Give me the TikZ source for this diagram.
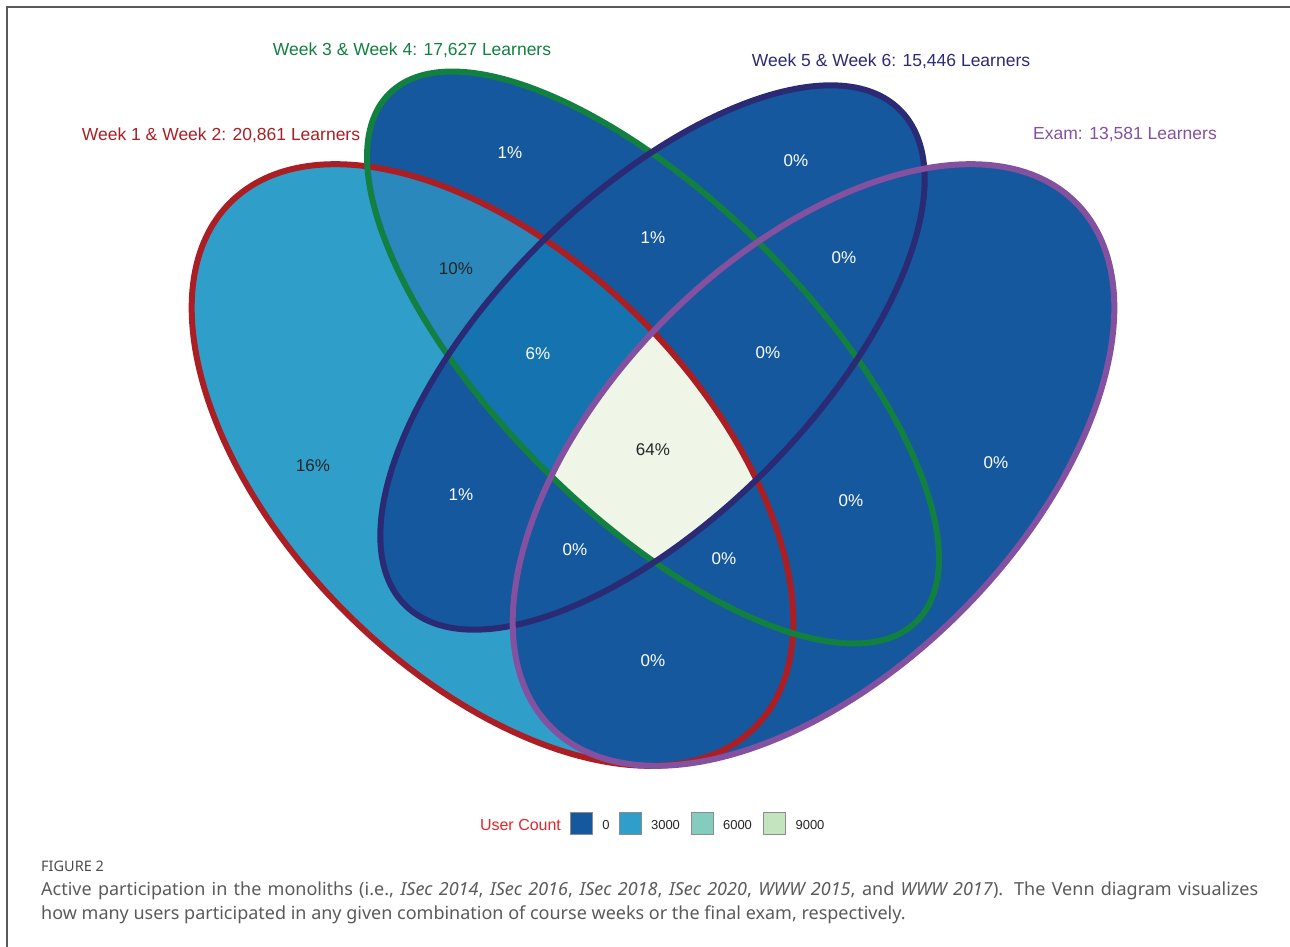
\documentclass[tikz,border=0pt]{standalone}
\usepackage{fontspec}
\setmainfont{Liberation Sans}
\newfontfamily\capfont{Noto Sans}

\definecolor{setred}{RGB}{171,30,36}
\definecolor{setgreen}{RGB}{17,128,64}
\definecolor{setnavy}{RGB}{43,42,116}
\definecolor{setpurple}{RGB}{132,80,160}
\definecolor{fillzero}{RGB}{21,88,157}
\definecolor{fillthree}{RGB}{47,159,201}
\definecolor{fillsix}{RGB}{132,204,190}
\definecolor{fillnine}{RGB}{196,228,192}
\definecolor{fillmid}{RGB}{42,136,188}
\definecolor{fillcore}{RGB}{21,116,176}
\definecolor{fillpale}{RGB}{239,246,232}
\definecolor{keyred}{RGB}{226,38,46}
\definecolor{capgray}{RGB}{90,90,90}

\tikzset{
  outline/.style={line width=6pt},
  pct/.style={font=\fontsize{17}{20}\selectfont, text=white},
  pctdark/.style={pct, text=black!85},
  setlabel/.style={font=\fontsize{17.5}{21}\selectfont},
  keybox/.style={draw=black!45, line width=1.5pt, minimum size=22pt, inner sep=0pt},
  keylabel/.style={font=\fontsize{13}{15}\selectfont, text=black!85},
  captext/.style={anchor=base west, inner sep=0pt, font=\capfont\fontsize{18}{22}\selectfont, text=capgray},
}

% the four sets
\def\setA{[rotate around={-45:(492.5,465)}] (492.5,465) ellipse [x radius=371pt, y radius=208pt]}
\def\setB{[rotate around={-45:(653,357.5)}] (653,357.5) ellipse [x radius=373pt, y radius=156pt]}
\def\setC{[rotate around={45:(652.5,357.5)}] (652.5,357.5) ellipse [x radius=350pt, y radius=160pt]}
\def\setD{[rotate around={45:(813.5,465)}] (813.5,465) ellipse [x radius=371pt, y radius=208pt]}

\begin{document}
\begin{tikzpicture}[x=1pt, y=-1pt]
  \useasboundingbox (0,0) rectangle (1290,947);
  \draw[black!65, line width=2pt] (7,947) -- (7,7) -- (1290,7);

  % fills
  \fill[fillthree] \setA;
  \fill[fillzero] \setB;
  \fill[fillzero] \setC;
  \fill[fillzero] \setD;
  \begin{scope}
    \clip \setA;
    \clip \setB;
    \fill[fillmid] \setB;
    \fill[fillcore] \setC;
    \fill[fillzero] \setD;
    \begin{scope}
      \clip \setC;
      \fill[fillpale] \setD;
    \end{scope}
  \end{scope}

  % outlines
  \draw[outline, setred] \setA;
  \draw[outline, setgreen] \setB;
  \draw[outline, setnavy] \setC;
  \draw[outline, setpurple] \setD;

  % set names
  \node[setlabel, text=setgreen] (labB) at (412,50) {Week 3 \& Week 4: 17,627 Learners};
  \node[setlabel, text=setnavy] (labC) at (891,61) {Week 5 \& Week 6: 15,446 Learners};
  \node[setlabel, text=setred] (labA) at (221,135) {Week 1 \& Week 2: 20,861 Learners};
  \node[setlabel, text=setpurple] (labD) at (1125,135) {Exam: 13,581 Learners};

  % region shares
  \node[pct] (b) at (510,153) {1\%};
  \node[pct] (c) at (796,161) {0\%};
  \node[pctdark] (ab) at (456,269) {10\%};
  \node[pct] (bc) at (653,238) {1\%};
  \node[pct] (cd) at (844,258) {0\%};
  \node[pct] (abc) at (538,354) {6\%};
  \node[pct] (bcd) at (768,353) {0\%};
  \node[pctdark] (abcd) at (653,450) {64\%};
  \node[pctdark] (a) at (313,466) {16\%};
  \node[pct] (d) at (996,463) {0\%};
  \node[pct] (ac) at (461,495) {1\%};
  \node[pct] (bd) at (851,501) {0\%};
  \node[pct] (acd) at (575,550) {0\%};
  \node[pct] (abd) at (724,559) {0\%};
  \node[pct] (ad) at (653,661) {0\%};

  % legend
  \node[font=\fontsize{16}{19}\selectfont, text=keyred] (keytitle) at (520.5,825) {User Count};
  \node[keybox, fill=fillzero] (key0) at (581.5,823.5) {};
  \node[keylabel] (val0) at (606,825) {0};
  \node[keybox, fill=fillthree] (key1) at (630.5,823.5) {};
  \node[keylabel] (val1) at (665.5,825) {3000};
  \node[keybox, fill=fillsix] (key2) at (702.5,823.5) {};
  \node[keylabel] (val2) at (737.5,825) {6000};
  \node[keybox, fill=fillnine] (key3) at (774.5,823.5) {};
  \node[keylabel] (val3) at (810,825) {9000};

  % caption
  \node[captext, font=\capfont\fontsize{14.5}{17}\selectfont, text=black!70] (fig) at (41,871) {FIGURE 2};
  \node[captext] (cap1) at (41,895)
    {\hbox to 1217pt{Active participation in the monoliths (i.e., \textit{ISec 2014}, \textit{ISec 2016}, \textit{ISec 2018}, \textit{ISec 2020}, \textit{WWW 2015}, and \textit{WWW 2017}). The Venn diagram visualizes}};
  \node[captext] (cap2) at (41,919)
    {how many users participated in any given combination of course weeks or the final exam, respectively.};
\end{tikzpicture}
\end{document}
